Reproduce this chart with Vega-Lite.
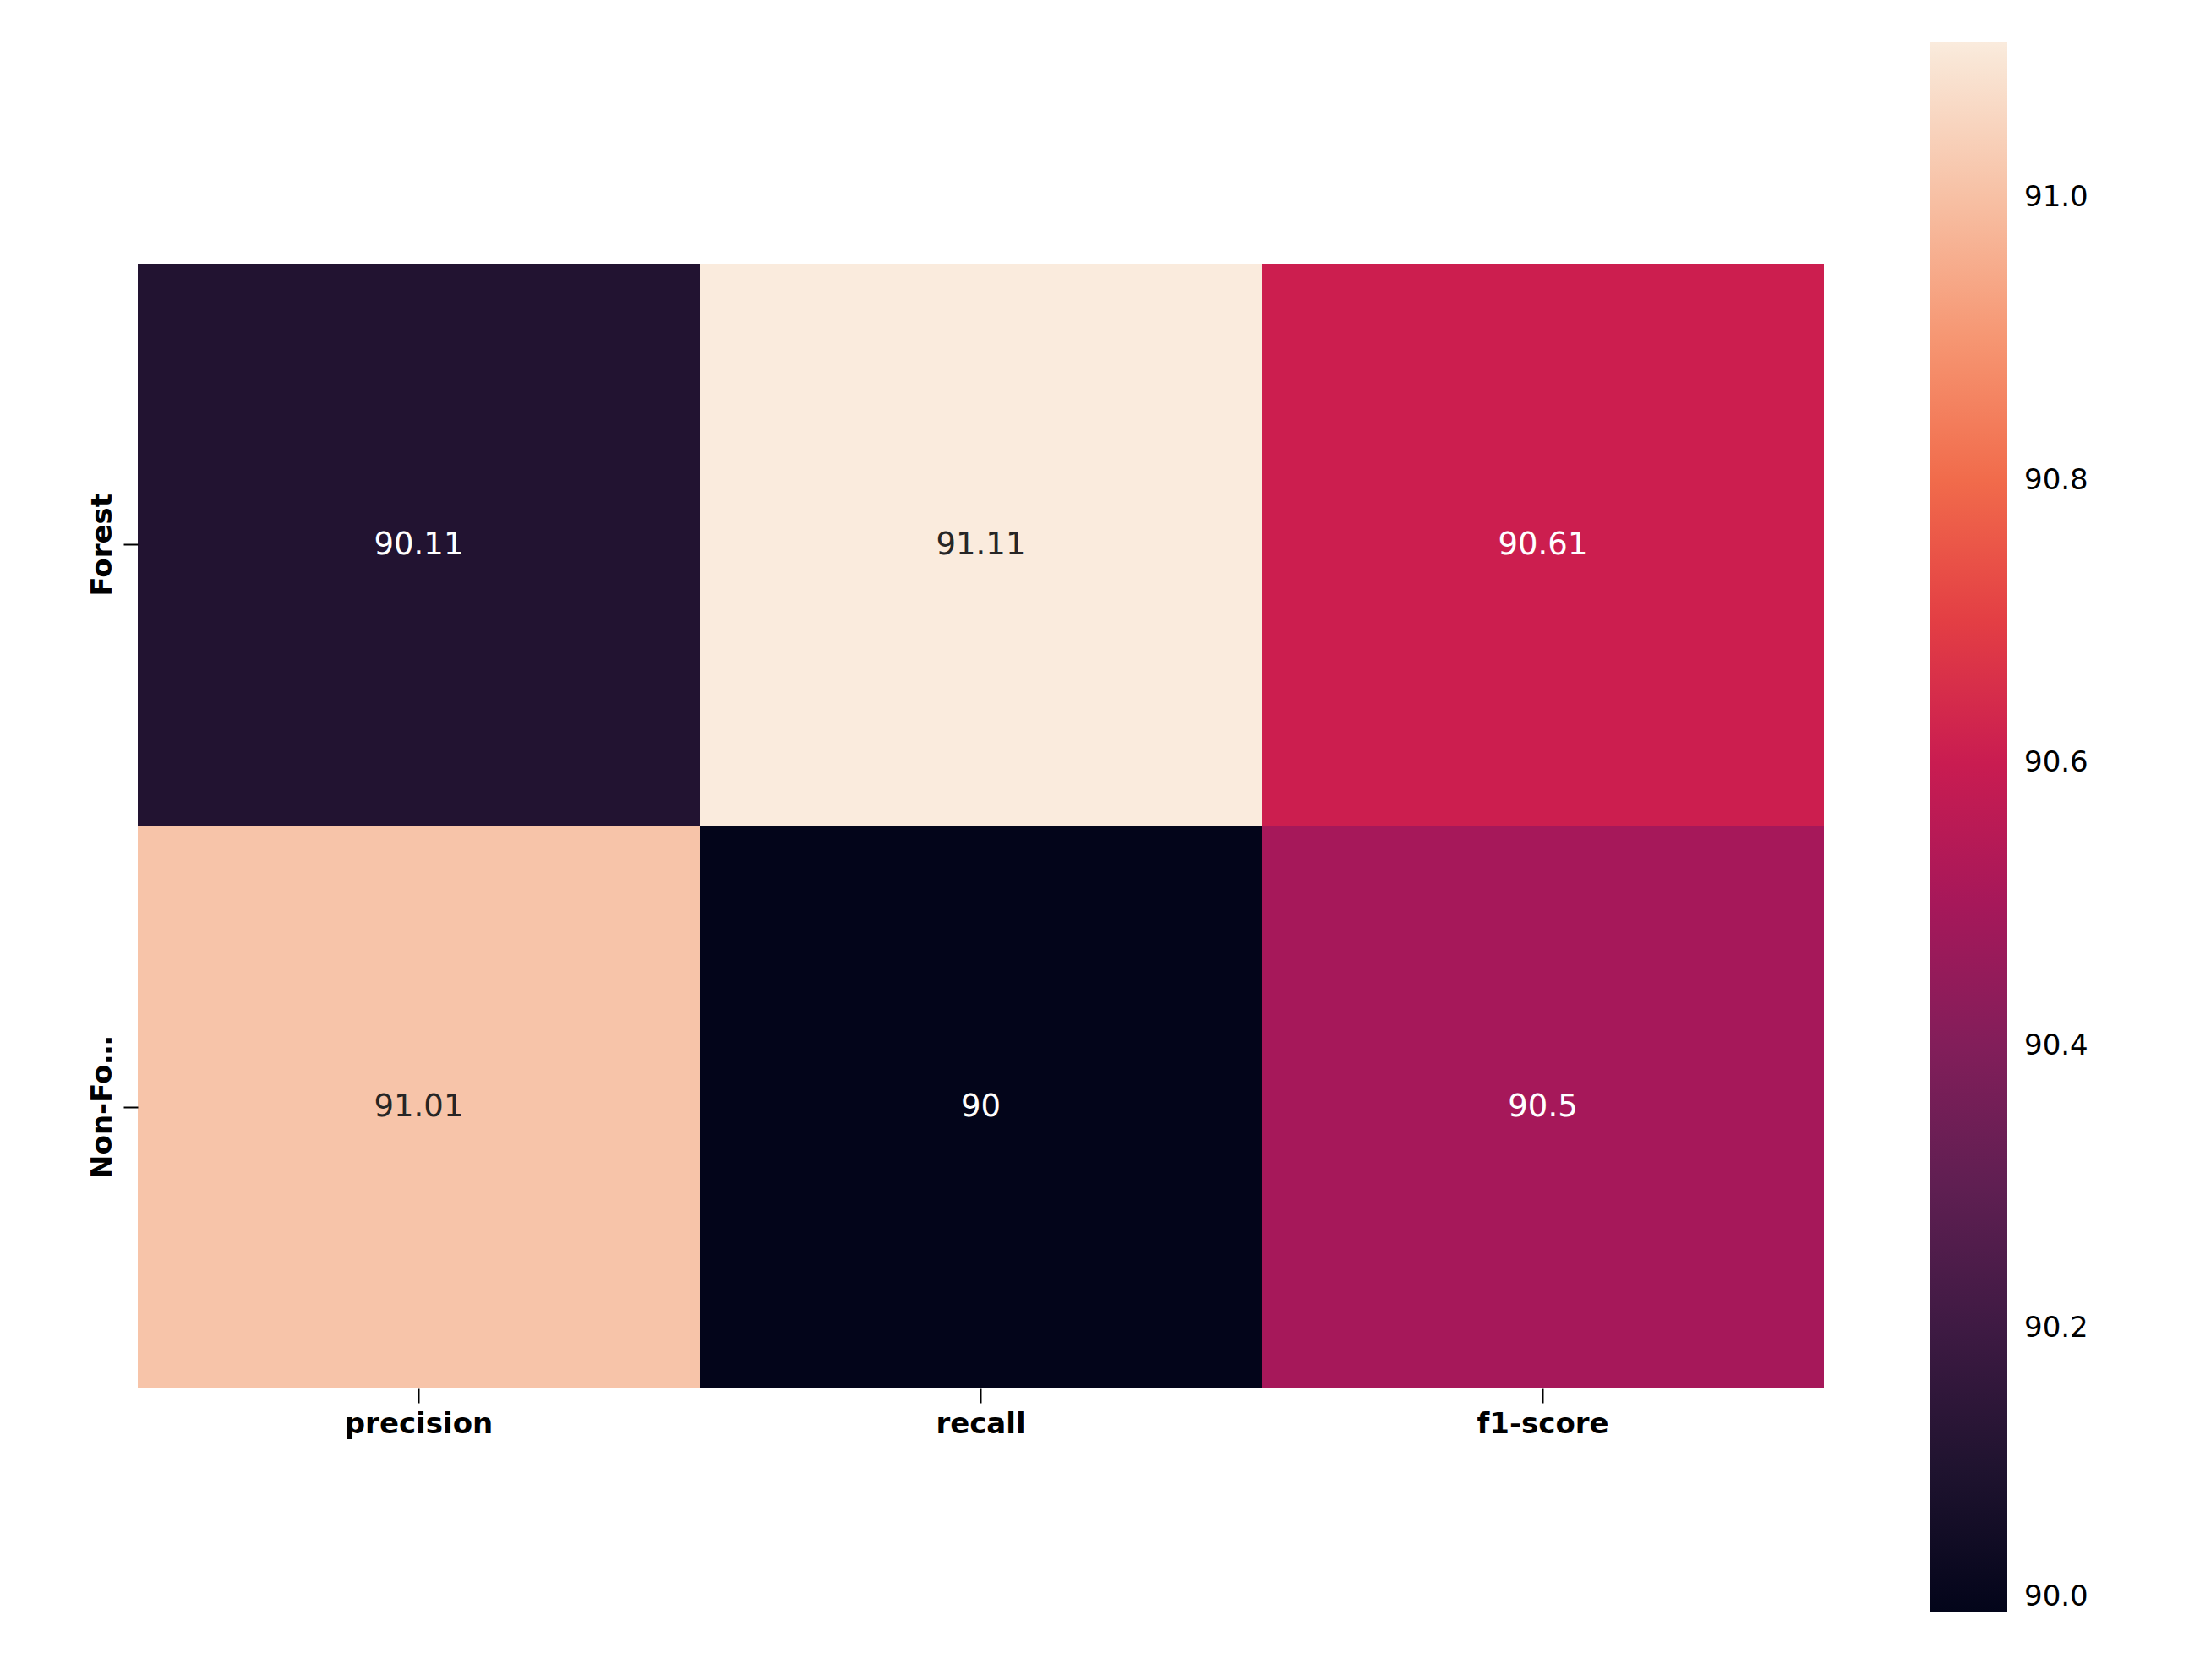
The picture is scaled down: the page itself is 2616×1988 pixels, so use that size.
{
  "$schema": "https://vega.github.io/schema/vega-lite/v6.json",
  "autosize": "none",
  "width": 1995,
  "height": 1331,
  "padding": {"left": 163, "top": 312, "right": 458, "bottom": 345},
  "background": "white",
  "config": {"view": {"stroke": null}, "font": "DejaVu Sans"},
  "data": {"values": [
    {"cls": "Forest", "metric": "precision", "value": 90.11},
    {"cls": "Forest", "metric": "recall", "value": 91.11},
    {"cls": "Forest", "metric": "f1-score", "value": 90.61},
    {"cls": "Non-Forest", "metric": "precision", "value": 91.01},
    {"cls": "Non-Forest", "metric": "recall", "value": 90},
    {"cls": "Non-Forest", "metric": "f1-score", "value": 90.5}
  ]},
  "encoding": {
    "x": {"field": "metric", "type": "nominal", "sort": ["precision", "recall", "f1-score"], "title": null,
      "scale": {"paddingInner": 0, "paddingOuter": 0},
      "axis": {"labelAngle": 0, "labelFontSize": 34, "labelFontWeight": "bold", "labelColor": "black", "domain": false, "tickSize": 17, "tickWidth": 2, "tickColor": "black", "labelPadding": 8}},
    "y": {"field": "cls", "type": "nominal", "sort": ["Forest", "Non-Forest"], "title": null,
      "scale": {"paddingInner": 0, "paddingOuter": 0},
      "axis": {"labelAngle": -90, "labelAlign": "center", "labelBaseline": "bottom", "labelFontSize": 34, "labelFontWeight": "bold", "labelColor": "black", "domain": false, "tickSize": 17, "tickWidth": 2, "tickColor": "black", "labelPadding": 8}}
  },
  "layer": [
    {
      "mark": {"type": "rect"},
      "encoding": {
        "color": {"field": "value", "type": "quantitative", "title": null,
          "scale": {"domain": [90, 91.11], "range": ["#03051a", "#221331", "#451c47", "#6a1f56", "#921c5b", "#b91657", "#dd2c45", "#f06043", "#f6916c", "#f7c0a4", "#faebdd"]},
          "legend": {"orient": "none", "legendX": 2121, "legendY": -262, "direction": "vertical", "gradientLength": 1857, "gradientThickness": 91,
            "values": [90.0, 90.2, 90.4, 90.6, 90.8, 91.0], "format": ".1f", "labelFontSize": 34, "labelColor": "black", "labelOffset": 20, "gradientStrokeWidth": 0}}
      }
    },
    {
      "mark": {"type": "text", "fontSize": 37},
      "encoding": {
        "text": {"field": "value", "type": "quantitative"},
        "color": {"condition": {"test": "datum.value < 90.8", "value": "white"}, "value": "#262626"}
      }
    }
  ]
}
